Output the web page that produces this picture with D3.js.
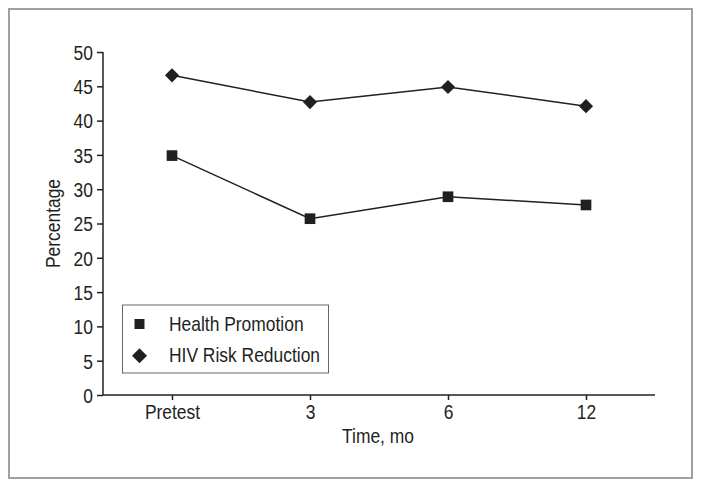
<!DOCTYPE html>
<html><head><meta charset="utf-8">
<script src="https://cdn.jsdelivr.net/npm/d3@7"></script>
<style>body{margin:0;background:#fff}text{font-family:"Liberation Sans",Arial,sans-serif;fill:#231f20}</style>
</head><body>
<svg id="c" width="701" height="488"></svg>
<script>
const categories = ["Pretest", "3", "6", "12"];
const healthPromotion = [34.9, 25.7, 28.9, 27.7];
const hivRiskReduction = [46.6, 42.7, 44.9, 42.1];
const yTicks = [0, 5, 10, 15, 20, 25, 30, 35, 40, 45, 50];
const seriesNames = ["Health Promotion", "HIV Risk Reduction"];

const svg = d3.select("#c");
const ink = "#231f20";
const FS = 20.5, SX = 0.85;
svg.append("rect").attr("x", 9).attr("y", 9).attr("width", 683).attr("height", 469)
  .attr("fill", "none").attr("stroke", "#a0a0a0").attr("stroke-width", 2);

const x = d3.scalePoint().domain(categories).range([103, 655]).padding(0.5);
const y = d3.scaleLinear().domain([0, 50]).range([395, 52]);

function narrow(sel) {
  sel.each(function() {
    const t = d3.select(this);
    const tx = +t.attr("x") || 0;
    t.attr("x", 0).attr("transform", `translate(${tx},0) scale(${SX},1)`)
     .attr("font-size", FS).attr("fill", ink)
     .style("font-family", '"Liberation Sans",Arial,sans-serif');
  });
}

const yAxis = svg.append("g").attr("transform", "translate(103,0)")
  .call(d3.axisLeft(y).tickValues(yTicks).tickSize(6).tickPadding(4));
const xAxis = svg.append("g").attr("transform", "translate(0,395)")
  .call(d3.axisBottom(x).tickSize(5).tickPadding(4));
[yAxis, xAxis].forEach(a => {
  a.select(".domain").attr("stroke", ink).attr("stroke-width", 1.5);
  a.selectAll(".tick line").attr("stroke", ink).attr("stroke-width", 1.5);
  narrow(a.selectAll(".tick text"));
});
yAxis.selectAll(".tick text").attr("dy", "0.36em");
xAxis.select(".domain").attr("d", "M103,0H655");
yAxis.select(".domain").attr("d", "M0,395V52");

svg.append("text").attr("transform", `translate(59.5,223.5) rotate(-90) scale(${SX},1)`)
  .attr("text-anchor", "middle").attr("font-size", FS).text("Percentage");
svg.append("text").attr("transform", `translate(378,443) scale(${SX},1)`)
  .attr("text-anchor", "middle").attr("font-size", FS).text("Time, mo");

const line = d3.line().x((d, i) => x(categories[i])).y(d => y(d));
const series = [healthPromotion, hivRiskReduction];
const symbols = [d3.symbolSquare, d3.symbolSquare];
const rot = [0, 45];
const sizes = [114, 100];
series.forEach((s, k) => {
  svg.append("path").datum(s).attr("d", line).attr("fill", "none")
    .attr("stroke", ink).attr("stroke-width", 1.5);
  svg.selectAll(null).data(s).enter().append("path")
    .attr("transform", (d, i) => `translate(${x(categories[i])},${y(d)}) rotate(${rot[k]})`)
    .attr("d", d3.symbol().type(symbols[k]).size(sizes[k])).attr("fill", ink);
});

// legend
const lg = svg.append("g");
lg.append("rect").attr("x", 122.5).attr("y", 305).attr("width", 206).attr("height", 68)
  .attr("fill", "#fff").attr("stroke", "#666").attr("stroke-width", 1);
const legY = [324, 355.7];
const legBase = [331, 362];
seriesNames.forEach((n, k) => {
  lg.append("path").attr("transform", `translate(139.5,${legY[k]}) rotate(${rot[k]})`)
    .attr("d", d3.symbol().type(symbols[k]).size(k ? 112 : 100)).attr("fill", ink);
  lg.append("text").attr("transform", `translate(169,${legBase[k]}) scale(${SX},1)`)
    .attr("font-size", FS).text(n);
});
</script>
</body></html>
